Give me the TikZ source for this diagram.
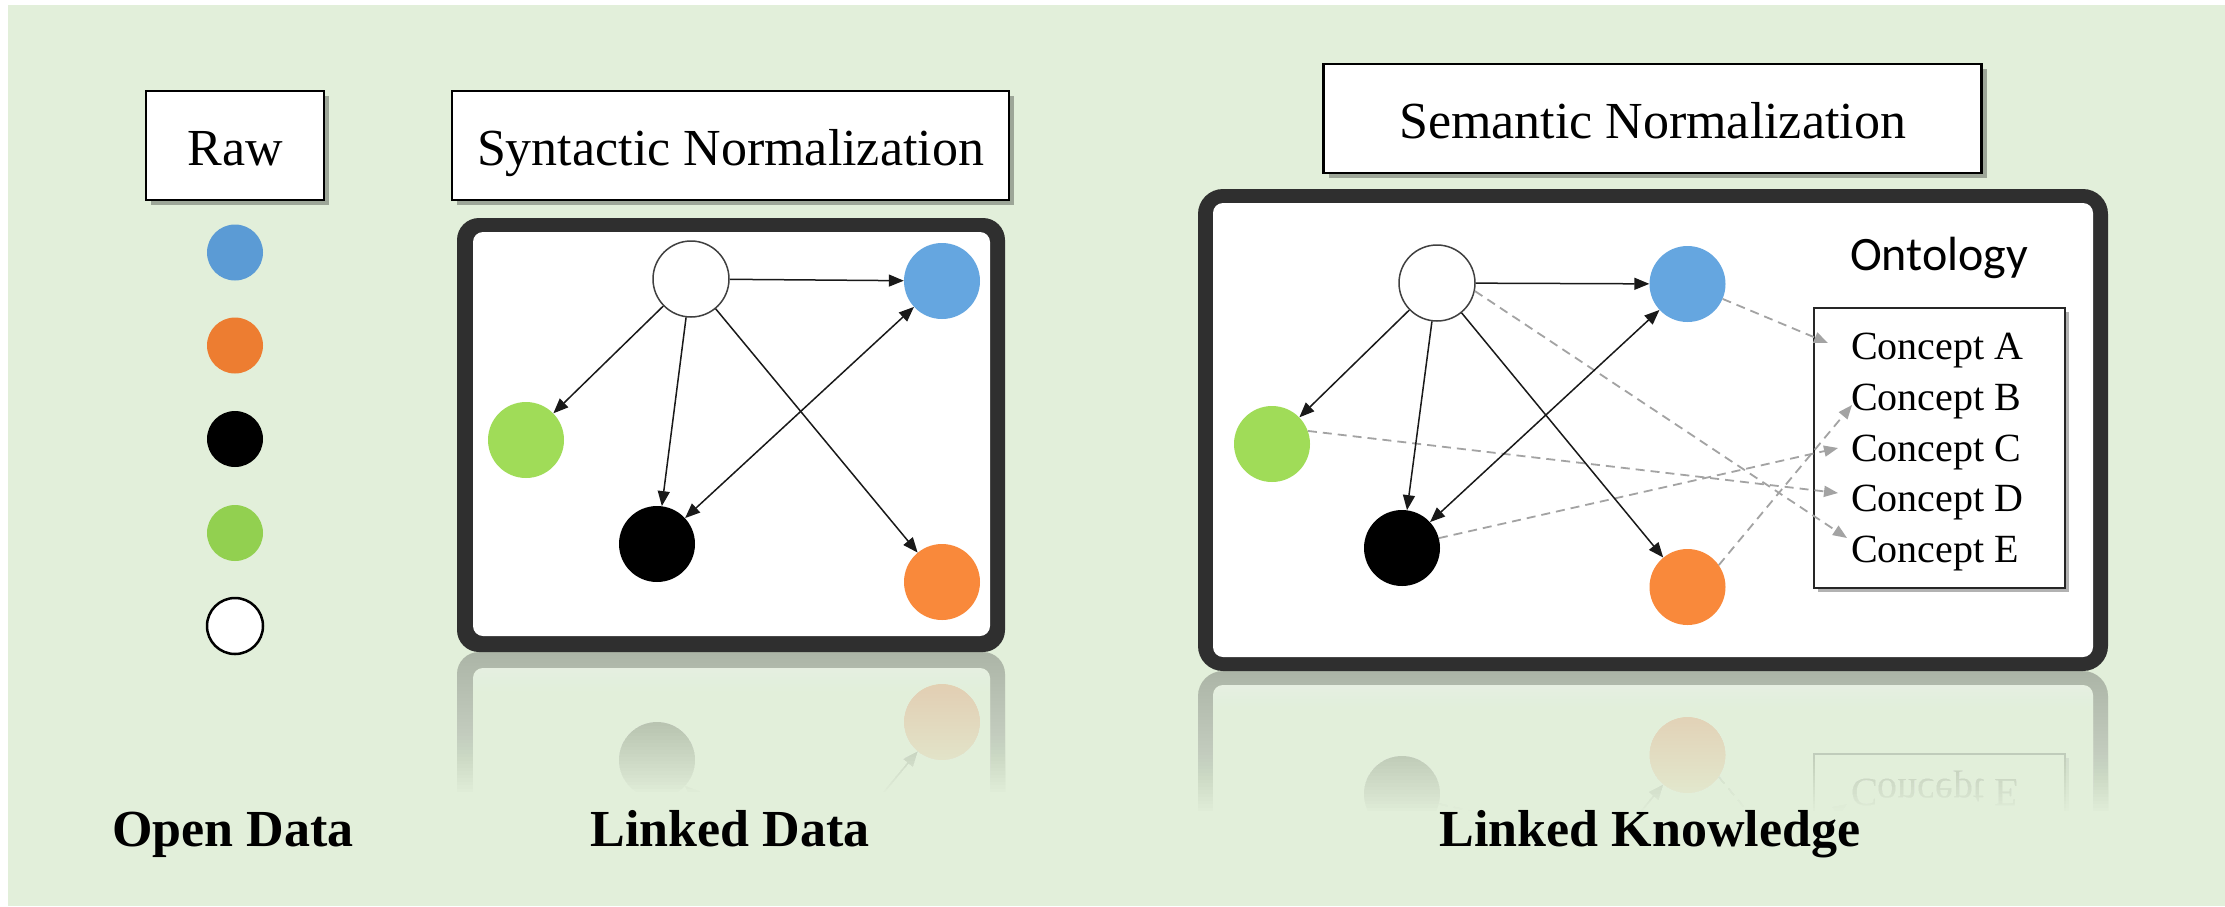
\documentclass[tikz,border=0pt]{standalone}
\usepackage{fontspec}
\setmainfont{Liberation Serif}
\newfontfamily\ontofont{Carlito}
\usetikzlibrary{arrows.meta,shadows}

\definecolor{bgcol}{HTML}{E2EFDA}
\definecolor{framecol}{HTML}{2F2F2F}
\definecolor{edgecol}{HTML}{404040}
\definecolor{rawblue}{HTML}{5B9BD5}
\definecolor{raworange}{HTML}{ED7D31}
\definecolor{rawgreen}{HTML}{92D050}
\definecolor{gblue}{HTML}{65A6E0}
\definecolor{gorange}{HTML}{F9893B}
\definecolor{ggreen}{HTML}{A0DC58}
\definecolor{dashgray}{HTML}{A3A3A3}

\tikzset{
  gnode/.style={circle, minimum size=76pt, inner sep=0pt},
  rawdot/.style={circle, minimum size=56pt, inner sep=0pt},
  link/.style={draw=black!90, line width=1.5pt, -{Triangle[length=15pt,width=12pt]}},
  biglink/.style={draw=black!90, line width=1.5pt,
    {Triangle[length=15pt,width=12pt]}-{Triangle[length=15pt,width=12pt]}},
  dlink/.style={draw=dashgray, line width=1.8pt, dash pattern=on 9pt off 6pt,
    -{Triangle[length=14pt,width=11pt,fill=dashgray]}},
  labelbox/.style={draw=black, line width=2.5pt, fill=white, inner sep=0pt,
    font=\fontsize{52}{60}\selectfont, text height=40pt, text depth=0pt,
    drop shadow={shadow xshift=5pt, shadow yshift=-5pt, opacity=0.3, fill=black}},
  concept/.style={anchor=base west, inner sep=0pt, font=\fontsize{40}{48}\selectfont},
  conceptbox/.style={draw=black!85, line width=1.5pt, fill=white, inner sep=0pt,
    minimum width=251pt, minimum height=280pt,
    drop shadow={shadow xshift=4pt, shadow yshift=-4pt, opacity=0.3, fill=black}},
  caption/.style={anchor=base, inner sep=0pt, font=\fontsize{52}{60}\selectfont\bfseries},
}

% veil over a mirrored panel: #1,#2 left/right, #3 top; stacked fills whose
% combined cover grows linearly from 70% at the top to full 140pt lower down
\newcommand{\veil}[3]{%
  \fill[bgcol, fill opacity=0.7] (#1,#3) rectangle (#2,{#3+160});
  \foreach \k in {1,...,40}{%
    \pgfmathsetmacro{\op}{1/(41-\k)}%
    \fill[bgcol, fill opacity=\op] (#1,{#3+\k*3.5}) rectangle (#2,{#3+160});
  }%
}

% graph panel: linked data
\newcommand{\drawLinkedData}[1]{%
  \fill[framecol, rounded corners=22pt] (457,218) rectangle (1005,652);
  \fill[white, rounded corners=10pt] (473,232) rectangle (990,636);
  \node[gnode, draw=edgecol, line width=1.5pt, fill=white] (#1W) at (691,279) {};
  \node[gnode, fill=gblue] (#1B) at (942,281) {};
  \node[gnode, fill=ggreen] (#1G) at (526,440) {};
  \node[gnode, fill=black] (#1K) at (657,544) {};
  \node[gnode, fill=gorange] (#1O) at (942,582) {};
  \draw[link] (#1W) -- (#1B);
  \draw[link] (#1W) -- (#1G);
  \draw[link] (#1W) -- (#1K);
  \draw[link] (#1W) -- (#1O);
  \draw[biglink] (#1K) -- (#1B);
}

% graph panel: linked knowledge with ontology
\newcommand{\drawLinkedKnowledge}[1]{%
  \fill[framecol, rounded corners=25pt] (1198,189) rectangle (2108,671);
  \fill[white, rounded corners=10pt] (1213,203) rectangle (2093,657);
  \node[anchor=base west, inner sep=0pt, font=\ontofont\fontsize{48}{56}\selectfont]
    (#1onto) at (1850,270) {Ontology};
  \node[conceptbox] (#1box) at (1939.5,448) {};
  \node[concept] (#1cA) at (1851,359) {Concept A};
  \node[concept] (#1cB) at (1851,410) {Concept B};
  \node[concept] (#1cC) at (1851,461) {Concept C};
  \node[concept] (#1cD) at (1851,511.5) {Concept D};
  \node[concept] (#1cE) at (1851,562.5) {Concept E};
  \node[gnode, draw=edgecol, line width=1.5pt, fill=white] (#1W) at (1437,283) {};
  \node[gnode, fill=gblue] (#1B) at (1687.5,284) {};
  \node[gnode, fill=ggreen] (#1G) at (1272,444) {};
  \node[gnode, fill=black] (#1K) at (1402,548) {};
  \node[gnode, fill=gorange] (#1O) at (1687.5,587) {};
  \coordinate (#1tA) at (1828,343);
  \coordinate (#1tB) at (1852,405);
  \coordinate (#1tC) at (1838,448);
  \coordinate (#1tD) at (1838,493);
  \coordinate (#1tE) at (1847,538);
  \draw[dlink] (#1W.-12) -- (#1tE);
  \draw[dlink] (#1B.-23) -- (#1tA);
  \draw[dlink] (#1G.20) -- (#1tD);
  \draw[dlink] (#1K.15) -- (#1tC);
  \draw[dlink] (#1O.35) -- (#1tB);
  \draw[link] (#1W) -- (#1B);
  \draw[link] (#1W) -- (#1G);
  \draw[link] (#1W) -- (#1K);
  \draw[link] (#1W) -- (#1O);
  \draw[biglink] (#1K) -- (#1B);
}

\begin{document}
\begin{tikzpicture}[x=1pt, y=-1pt]
\useasboundingbox (0,0) rectangle (2225,906);
\fill[white] (0,0) rectangle (2225,906);
\fill[bgcol] (8,5) rectangle (2225,906);

% mirrored panels below the frames, veiled towards the bottom
\begin{scope}
  \clip (445,652) rectangle (1015,800);
  \begin{scope}[shift={(0,1304)}, yscale=-1, transform shape]
    \drawLinkedData{rL}
  \end{scope}
\end{scope}
\veil{440}{1020}{652}

\begin{scope}
  \clip (1185,671) rectangle (2120,818);
  \begin{scope}[shift={(0,1342)}, yscale=-1, transform shape]
    \drawLinkedKnowledge{rR}
  \end{scope}
\end{scope}
\veil{1180}{2125}{671}

% open data column
\node[labelbox, minimum width=178pt, minimum height=109pt] (raw) at (235,145.5) {Raw};
\node[rawdot, fill=rawblue] (d1) at (235,252.5) {};
\node[rawdot, fill=raworange] (d2) at (235,345.5) {};
\node[rawdot, fill=black] (d3) at (235,439) {};
\node[rawdot, fill=rawgreen] (d4) at (235,533) {};
\node[rawdot, fill=white, draw=black, line width=2.5pt] (d5) at (235,626) {};

% linked data column
\node[labelbox, minimum width=557pt, minimum height=109pt] (syn) at (730.5,145.5) {Syntactic Normalization};
\drawLinkedData{L}

% linked knowledge column
\node[labelbox, minimum width=658pt, minimum height=109pt] (sem) at (1652.5,118.3) {Semantic Normalization};
\drawLinkedKnowledge{R}

% captions
\node[caption] (capA) at (233,846) {Open Data};
\node[caption] (capB) at (730,846) {Linked Data};
\node[caption] (capC) at (1650,846) {Linked Knowledge};
\end{tikzpicture}
\end{document}
